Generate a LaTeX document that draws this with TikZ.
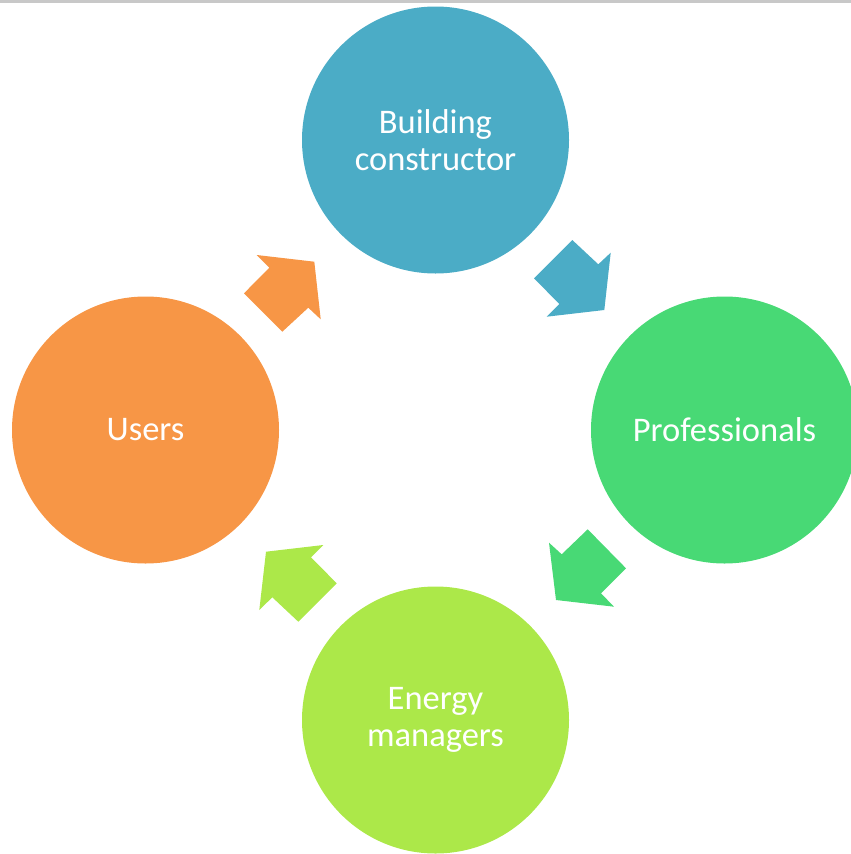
\documentclass[tikz,border=0pt]{standalone}
\usepackage{fontspec}
\setmainfont{Carlito}
\definecolor{cblue}{HTML}{4BACC6}
\definecolor{cgreen}{HTML}{48D975}
\definecolor{clime}{HTML}{ACE849}
\definecolor{corange}{HTML}{F79646}
\definecolor{cgray}{HTML}{C8C8C8}
\begin{document}
\begin{tikzpicture}[x=1pt,y=-1pt,
  stage/.style={circle,minimum size=267pt,inner sep=0pt,text=white,align=center,
    font=\fontsize{34.5}{37}\selectfont}]
\useasboundingbox (0,0) rectangle (851,854);
\clip (0,0) rectangle (851,854);
\fill[cgray] (0,0) rectangle (851,3);
\node[stage,fill=cblue] (bc) at (435.5,140) {Building\\constructor};
\node[stage,fill=cgreen] (pro) at (724.5,430) {Professionals};
\node[stage,fill=clime] (em) at (435.5,720) {Energy\\managers};
\node[stage,fill=corange] (us) at (145.5,430) {Users};
% arrows
\fill[corange] (244,293.3) -- (269.3,267.7) -- (256.7,255) -- (314.3,261.7) -- (320.7,319.3) -- (308.3,307.7) -- (282.3,331.7) -- cycle;
\fill[cblue] (572.3,240) -- (598.3,264.3) -- (610.7,252.7) -- (604.3,310) -- (546.7,316.7) -- (559.3,304) -- (534,278.3) -- cycle;
\fill[cgreen] (587.7,529.3) -- (626,568.3) -- (601,593.3) -- (614,606.7) -- (556,600) -- (549,542.7) -- (561.7,554.3) -- cycle;
\fill[clime] (323.3,545) -- (311,557.3) -- (336.7,583.3) -- (298.3,621.7) -- (272.3,597.3) -- (259.3,610) -- (266,551.7) -- cycle;
\end{tikzpicture}
\end{document}
